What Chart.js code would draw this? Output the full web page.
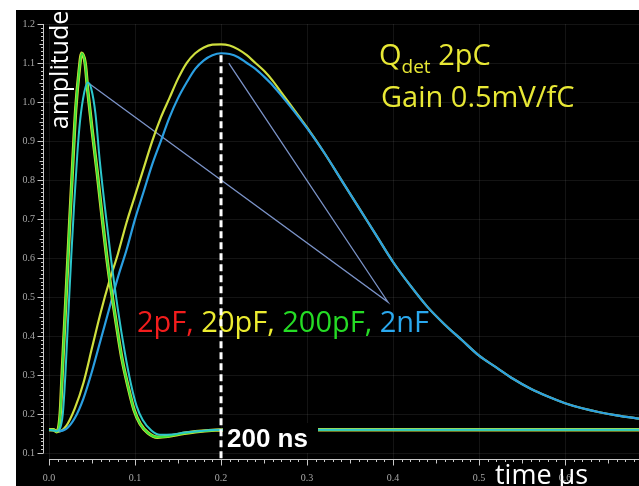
<!DOCTYPE html>
<html>
<head>
<meta charset="utf-8">
<script src="https://cdn.jsdelivr.net/npm/chart.js@4.4.1/dist/chart.umd.min.js"></script>
<style>
    html, body { margin: 0; padding: 0; background: #fff; width: 639px; height: 486px; overflow: hidden; }
    #wrap { position: absolute; left: 16px; top: 10px; width: 623px; height: 476px; background: #000; }
</style>
</head>
<body>
<div id="wrap"><canvas id="myChart"></canvas></div>
<script>
// оси
const xTickValues = [0.0, 0.1, 0.2, 0.3, 0.4, 0.5, 0.6];
const yTickValues = [0.1, 0.2, 0.3, 0.4, 0.5, 0.6, 0.7, 0.8, 0.9, 1.0, 1.1, 1.2];
const xMin = -0.007, xMax = 0.686;
const yMin = 0.0825, yMax = 1.2;

// быстрый формирователь
const fastTimeA = [0, 0.005, 0.009, 0.013, 0.015, 0.017, 0.020, 0.022, 0.024, 0.028, 0.031, 0.035, 0.038, 0.042, 0.045, 0.050,
    0.056, 0.062, 0.069, 0.077, 0.085, 0.092, 0.099, 0.106, 0.115, 0.126, 0.138, 0.152, 0.170, 0.193, 0.222, 0.69];
const fast200pF = [0.16, 0.16, 0.155, 0.20, 0.29, 0.38, 0.51, 0.60, 0.69, 0.86, 0.98, 1.08, 1.125, 1.10, 1.03, 0.93,
    0.82, 0.70, 0.57, 0.45, 0.34, 0.27, 0.21, 0.175, 0.152, 0.141, 0.143, 0.149, 0.155, 0.159, 0.16, 0.16];
const fastTimeB = [0, 0.009, 0.013, 0.016, 0.019, 0.021, 0.023, 0.026, 0.029, 0.033, 0.036, 0.041, 0.045, 0.049, 0.054,
    0.059, 0.065, 0.072, 0.080, 0.088, 0.095, 0.102, 0.109, 0.119, 0.129, 0.143, 0.158, 0.176, 0.199, 0.69];
const fast2nF = [0.16, 0.157, 0.165, 0.20, 0.30, 0.39, 0.48, 0.61, 0.73, 0.87, 0.95, 1.025, 1.05, 1.035, 0.97,
    0.85, 0.73, 0.60, 0.47, 0.36, 0.28, 0.22, 0.185, 0.158, 0.147, 0.148, 0.153, 0.157, 0.16, 0.16];

// медленный формирователь
const slowTime = [0, 0.005, 0.01, 0.02, 0.03, 0.04, 0.05, 0.06, 0.07, 0.08, 0.09, 0.10, 0.11, 0.12, 0.13, 0.14, 0.15,
    0.16, 0.17, 0.18, 0.19, 0.20, 0.21, 0.22, 0.23, 0.24, 0.25, 0.26, 0.27, 0.28, 0.29, 0.30, 0.32, 0.34, 0.36, 0.38,
    0.40, 0.42, 0.44, 0.46, 0.48, 0.50, 0.52, 0.54, 0.56, 0.58, 0.60, 0.62, 0.64, 0.66, 0.69];
const slow20pF = [0.16, 0.16, 0.155, 0.17, 0.215, 0.28, 0.37, 0.46, 0.54, 0.61, 0.69, 0.76, 0.83, 0.90, 0.96, 1.01, 1.06,
    1.10, 1.125, 1.14, 1.147, 1.148, 1.145, 1.135, 1.12, 1.10, 1.08, 1.055, 1.025, 0.995, 0.965, 0.935, 0.87, 0.80, 0.73, 0.66,
    0.59, 0.53, 0.475, 0.43, 0.39, 0.35, 0.32, 0.29, 0.265, 0.245, 0.228, 0.215, 0.205, 0.197, 0.187];
const slow2nF = [0.16, 0.16, 0.156, 0.162, 0.19, 0.24, 0.31, 0.39, 0.47, 0.55, 0.62, 0.70, 0.77, 0.84, 0.90, 0.96, 1.01,
    1.05, 1.085, 1.107, 1.12, 1.125, 1.123, 1.115, 1.10, 1.085, 1.065, 1.043, 1.017, 0.99, 0.962, 0.933, 0.87, 0.80, 0.73, 0.66,
    0.59, 0.53, 0.475, 0.43, 0.39, 0.35, 0.32, 0.29, 0.265, 0.245, 0.228, 0.215, 0.205, 0.197, 0.187];

// выноски и отметка 200 ns
const pointerTip = { x: 0.394, y: 0.4875 };
const pointerFrom = [{ x: 0.045, y: 1.05 }, { x: 0.209, y: 1.10 }];
const markerTime = 0.2;
const markerTop = 1.12;

const legendParts = [
    { text: '2pF, ', color: '#f21d1d' },
    { text: '20pF, ', color: '#ecec30' },
    { text: '200pF, ', color: '#25dc25' },
    { text: '2nF', color: '#2aa8ee' }
];

function toPoints(xs, ys) {
    return xs.map((x, i) => ({ x: x, y: ys[i] }));
}

function curve(data, color, width) {
    return {
        data: data,
        borderColor: color,
        borderWidth: width,
        pointRadius: 0,
        cubicInterpolationMode: 'monotone',
        fill: false
    };
}

const overlay = {
    id: 'overlay',
    beforeDatasetsDraw(chart) {
        const ctx = chart.ctx;
        const xs = chart.scales.x, ys = chart.scales.y;
        const area = chart.chartArea;
        ctx.save();
        ctx.strokeStyle = '#c9c9c9';
        ctx.lineWidth = 1;

        // ось Y с мелкими засечками
        const ax = Math.round(area.left) + 0.5;
        ctx.beginPath();
        ctx.moveTo(ax, ys.getPixelForValue(yMax));
        ctx.lineTo(ax, ys.getPixelForValue(0.1));
        for (let i = 10; i <= 120; i++) {
            const py = Math.round(ys.getPixelForValue(i / 100)) + 0.5;
            const len = i % 10 === 0 ? 6 : (i % 5 === 0 ? 4 : 2.5);
            ctx.moveTo(ax, py);
            ctx.lineTo(ax - len, py);
        }
        ctx.stroke();

        // ось X
        const ay = Math.round(area.bottom) - 0.5;
        ctx.beginPath();
        ctx.moveTo(xs.getPixelForValue(0), ay);
        ctx.lineTo(area.right, ay);
        for (let i = 0; i <= 68; i++) {
            const px = Math.round(xs.getPixelForValue(i / 100)) + 0.5;
            const len = i % 10 === 0 ? 6 : (i % 5 === 0 ? 4 : 2.5);
            ctx.moveTo(px, ay);
            ctx.lineTo(px, ay + len);
        }
        ctx.stroke();

        // подписи
        ctx.fillStyle = '#fff';
        ctx.font = '25px "Open Sans"';
        ctx.textAlign = 'center';
        ctx.textBaseline = 'middle';
        ctx.save();
        ctx.translate(45, 60);
        ctx.rotate(-Math.PI / 2);
        ctx.fillText('amplitude', 0, 0);
        ctx.restore();

        ctx.textAlign = 'left';
        ctx.textBaseline = 'alphabetic';
        ctx.font = '27px "Open Sans"';
        ctx.fillText('time µs', 479, 474);

        ctx.fillStyle = '#e8e835';
        let x = 363;
        ctx.font = '29px "Open Sans"';
        ctx.fillText('Q', x, 55);
        x += ctx.measureText('Q').width;
        ctx.font = '19px "Open Sans"';
        ctx.fillText('det', x, 63);
        x += ctx.measureText('det').width;
        ctx.font = '29px "Open Sans"';
        ctx.fillText(' 2pC', x, 55);
        ctx.fillText('Gain 0.5mV/fC', 365, 97);

        x = 121;
        legendParts.forEach(p => {
            ctx.fillStyle = p.color;
            ctx.fillText(p.text, x, 322);
            x += ctx.measureText(p.text).width;
        });
        ctx.restore();
    },
    afterDatasetsDraw(chart) {
        const ctx = chart.ctx;
        ctx.save();
        ctx.fillStyle = '#000';
        ctx.fillRect(207, 413, 95, 30);
        ctx.fillStyle = '#fff';
        ctx.font = 'bold 26px "Liberation Sans"';
        ctx.textBaseline = 'alphabetic';
        ctx.fillText('200 ns', 211, 437);
        ctx.restore();
    }
};

const tickFont = { family: '"Liberation Serif", serif', size: 10 };

new Chart(document.getElementById('myChart').getContext('2d'), {
    type: 'line',
    data: {
        datasets: [
            {
                data: [{ x: markerTime, y: markerTop }, { x: markerTime, y: yMin }],
                borderColor: '#ffffff',
                borderWidth: 3,
                borderDash: [7, 4],
                pointRadius: 0
            },
            curve(toPoints(fastTimeB, fast2nF), '#2cc6cc', 2),
            curve(toPoints(fastTimeA, fast200pF), '#3ee43a', 2),
            curve(toPoints(fastTimeA, fast200pF), '#dede3a', 3.4),
            curve(toPoints(slowTime, slow2nF), '#2a9fe2', 2.2),
            curve(toPoints(slowTime, slow20pF), '#cfdf3e', 2.2),
            {
                data: [pointerFrom[0], pointerTip, pointerFrom[1]],
                borderColor: '#7b93c8',
                borderWidth: 1.3,
                pointRadius: 0,
                tension: 0
            }
        ]
    },
    options: {
        responsive: true,
        maintainAspectRatio: false,
        animation: false,
        layout: { padding: { top: 3, right: 0, left: 0, bottom: 0 } },
        plugins: {
            legend: { display: false },
            tooltip: { enabled: false }
        },
        scales: {
            x: {
                type: 'linear',
                min: xMin,
                max: xMax,
                afterBuildTicks: scale => { scale.ticks = xTickValues.map(v => ({ value: v })); },
                afterFit: scale => { scale.height = 26; },
                border: { display: false },
                grid: { color: 'rgba(255,255,255,0.08)', drawTicks: false },
                ticks: {
                    color: '#a8a8a8',
                    font: tickFont,
                    padding: 12,
                    maxRotation: 0,
                    autoSkip: false,
                    callback: v => v.toFixed(1)
                }
            },
            y: {
                type: 'linear',
                min: yMin,
                max: yMax,
                afterBuildTicks: scale => { scale.ticks = yTickValues.map(v => ({ value: v })); },
                afterFit: scale => { scale.width = 27; },
                border: { display: false },
                grid: { color: 'rgba(255,255,255,0.08)', drawTicks: false },
                ticks: {
                    color: '#a8a8a8',
                    font: tickFont,
                    padding: 8,
                    autoSkip: false,
                    callback: v => v.toFixed(1)
                }
            }
        }
    },
    plugins: [overlay]
});
</script>
</body>
</html>
